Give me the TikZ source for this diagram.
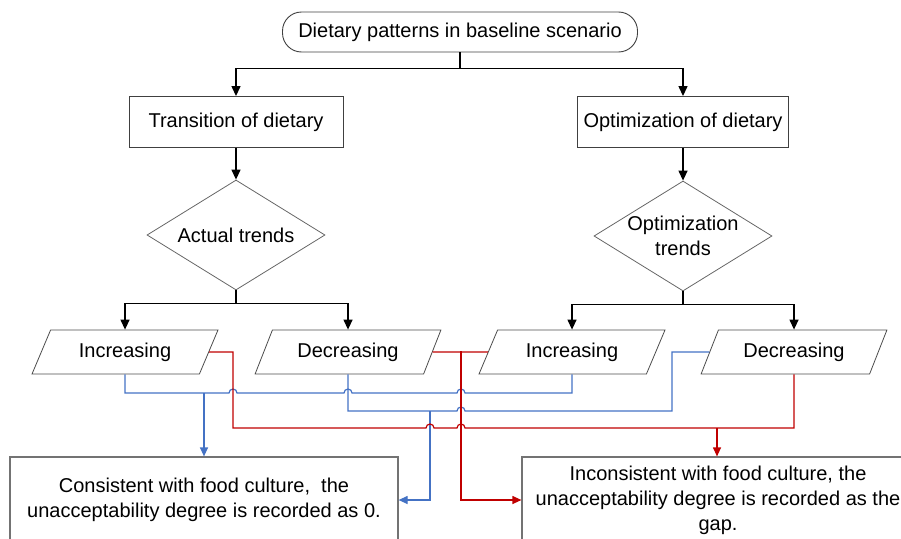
\documentclass[tikz,border=0pt]{standalone}
\usepackage{fontspec}
\setmainfont{Liberation Sans}
\usetikzlibrary{shapes.geometric,arrows.meta,positioning}
\definecolor{flowblue}{RGB}{68,114,196}
\definecolor{flowred}{RGB}{192,0,0}

\begin{document}
\begin{tikzpicture}[x=1pt,y=-1pt,font=\fontsize{20}{25}\selectfont,
    box/.style={draw=black!75,line width=0.9pt,minimum width=214pt,minimum height=51pt,inner sep=4pt},
    choice/.style={diamond,draw=black!60,line width=0.8pt,aspect=1.6,inner sep=0pt,minimum width=178pt,minimum height=110pt,align=center},
    trend/.style={trapezium,trapezium left angle=64,trapezium right angle=116,trapezium stretches=true,draw=black!70,line width=0.8pt,minimum width=186pt,minimum height=44pt},
    result/.style={draw=black!55,line width=1.2pt,minimum height=86pt,align=center},
    arr/.style={line width=1.3pt,-{Triangle[width=9pt,length=10pt]}},
    blueln/.style={flowblue,line width=1.2pt},
    redln/.style={flowred,line width=1.2pt},
    headed/.style={-{Triangle[width=8pt,length=9pt]}}]
    \useasboundingbox (0,0) rectangle (901,538);
    \clip (0,0) rectangle (901,538);

    \node[draw=black!75,line width=0.9pt,rounded corners=19pt,minimum width=355pt,minimum height=40pt] (base) at (460,32) {Dietary patterns in baseline scenario};
    \node[box] (trans) at (236,122) {Transition of dietary};
    \node[box,minimum width=211pt] (optim) at (683,122) {Optimization of dietary};
    \node[choice] (actual) at (236,235) {Actual trends};
    \node[choice] (optrend) at (683,236) {Optimization\\trends};
    \foreach \name/\x/\txt in {incL/125/Increasing,decL/348/Decreasing,incR/572/Increasing,decR/794/Decreasing}
        \node[trend] (\name) at (\x,352) {\txt};
    \node[result,minimum width=388pt] (cons) at (204,500) {Consistent with food culture,~ the\\unacceptability degree is recorded as 0.};
    \node[result,minimum width=392pt] (incons) at (718,500) {Inconsistent with food culture, the\\unacceptability degree is recorded as the\\gap.};

    % black tree
    \draw[arr] (base.south) -- ++(0,16) -| (trans.north);
    \draw[arr] (base.south) -- ++(0,16) -| (optim.north);
    \draw[arr] (trans) -- (actual);
    \draw[arr] (optim) -- (optrend);
    \draw[arr] (actual.south) -- ++(0,13) -| (incL.north);
    \draw[arr] (actual.south) -- ++(0,13) -| (decL.north);
    \draw[arr] (optrend.south) -- ++(0,13) -| (incR.north);
    \draw[arr] (optrend.south) -- ++(0,13) -| (decR.north);

    % junctions
    \coordinate (jb1) at (204,393);
    \coordinate (jb2) at (430,411);
    \coordinate (jr1) at (717,428);
    \coordinate (jr2) at (461,351);

    % blue: consistent
    \draw[blueln] (incL.south) |- (229,393) arc[start angle=180,end angle=0,radius=4pt]
        -- (344,393) arc[start angle=180,end angle=0,radius=4pt]
        -- (457,393) arc[start angle=180,end angle=0,radius=4pt]
        -- (incR.south |- jb1) -- (incR.south);
    \draw[blueln] (decL.south) |- (457,411) arc[start angle=180,end angle=0,radius=4pt]
        -- (672,411) |- (decR.west);
    \draw[blueln,headed] (jb1) -- (jb1 |- cons.north);
    \draw[blueln,headed] (jb2) |- (cons.east);

    % red: inconsistent
    \draw[redln] (incL.east) -| (233,428) -- (426,428) arc[start angle=180,end angle=0,radius=4pt]
        -- (457,428) arc[start angle=180,end angle=0,radius=4pt]
        -- (decR.south |- jr1) -- (decR.south);
    \draw[redln] (decL.east) -- (incR.west);
    \draw[redln,headed] (jr1) -- (jr1 |- incons.north);
    \draw[redln,headed] (jr2) |- (incons.west);
\end{tikzpicture}
\end{document}
